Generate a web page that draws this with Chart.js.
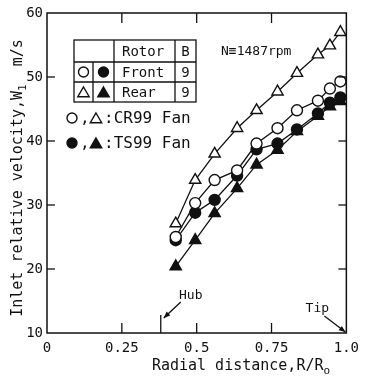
<!DOCTYPE html>
<html>
<head>
<meta charset="utf-8">
<script src="https://cdn.jsdelivr.net/npm/chart.js@4.4.1/dist/chart.umd.min.js"></script>
<style>
html,body{margin:0;padding:0;background:#fff;}
canvas{display:block;}
</style>
</head>
<body>
<canvas id="c" width="366" height="378"></canvas>
<script>
// ---- data ----
const radialPositions = [0.43, 0.495, 0.56, 0.635, 0.70, 0.77, 0.835, 0.905, 0.945, 0.98];
const cr99Front = [25.0, 30.3, 33.9, 35.4, 39.6, 42.0, 44.8, 46.3, 48.2, 49.3];
const cr99Rear  = [27.1, 33.9, 38.0, 42.0, 44.8, 47.7, 50.6, 53.5, 54.9, 57.0];
const ts99Front = [24.5, 28.8, 30.8, 34.6, 38.7, 39.6, 41.8, 44.3, 46.0, 46.8];
const ts99Rear  = [20.4, 24.5, 28.7, 32.6, 36.3, 38.6, 41.5, 43.9, 45.4, 46.2];
const xTickValues = [0, 0.25, 0.5, 0.75, 1.0];
const xTickLabels = ['0', '0.25', '0.5', '0.75', '1.0'];
const yTickValues = [10, 20, 30, 40, 50, 60];
const hubPosition = 0.38;

const FONT = '"DejaVu Sans Mono", monospace';
const INK = '#111';

function pts(vals){ return radialPositions.map((r,i)=>({x:r, y:vals[i]})); }
function ds(label, vals, style, filled){
  return {
    label, data: pts(vals), showLine: true,
    borderColor: INK, borderWidth: 1.3,
    pointStyle: style, pointRadius: style==='triangle'?6.5:5.5,
    pointBackgroundColor: filled ? INK : '#fff',
    pointBorderColor: INK, pointBorderWidth: 1.4,
    tension: 0
  };
}

function marker(ctx, style, x, y, r, filled){
  ctx.save();
  ctx.lineWidth = 1.4; ctx.strokeStyle = INK; ctx.fillStyle = filled ? INK : '#fff';
  ctx.beginPath();
  if(style==='circle'){ ctx.arc(x,y,r,0,Math.PI*2); }
  else { ctx.moveTo(x, y-r); ctx.lineTo(x+r*0.95, y+r*0.62); ctx.lineTo(x-r*0.95, y+r*0.62); ctx.closePath(); }
  ctx.fill(); ctx.stroke();
  ctx.restore();
}

function arrow(ctx, x1,y1,x2,y2){
  ctx.save();
  ctx.strokeStyle = INK; ctx.fillStyle = INK; ctx.lineWidth = 1.3;
  ctx.beginPath(); ctx.moveTo(x1,y1); ctx.lineTo(x2,y2); ctx.stroke();
  const a = Math.atan2(y2-y1, x2-x1), L = 7, w = 0.4;
  ctx.beginPath();
  ctx.moveTo(x2,y2);
  ctx.lineTo(x2 - L*Math.cos(a-w), y2 - L*Math.sin(a-w));
  ctx.lineTo(x2 - L*Math.cos(a+w), y2 - L*Math.sin(a+w));
  ctx.closePath(); ctx.fill();
  ctx.restore();
}

const decor = {
  id: 'decor',
  afterDraw(chart){
    const ctx = chart.ctx, ca = chart.chartArea;
    const xs = chart.scales.x, ys = chart.scales.y;
    ctx.save();
    ctx.strokeStyle = INK; ctx.lineWidth = 1.5;
    ctx.strokeRect(ca.left, ca.top, ca.right-ca.left, ca.bottom-ca.top);
    // inner ticks
    ctx.lineWidth = 1.3;
    xTickValues.slice(1, -1).forEach(v=>{
      const px = xs.getPixelForValue(v);
      ctx.beginPath(); ctx.moveTo(px, ca.bottom); ctx.lineTo(px, ca.bottom-10); ctx.stroke();
      ctx.beginPath(); ctx.moveTo(px, ca.top); ctx.lineTo(px, ca.top+10); ctx.stroke();
    });
    yTickValues.slice(1, -1).forEach(v=>{
      const py = ys.getPixelForValue(v);
      ctx.beginPath(); ctx.moveTo(ca.left, py); ctx.lineTo(ca.left+8, py); ctx.stroke();
      ctx.beginPath(); ctx.moveTo(ca.right, py); ctx.lineTo(ca.right-8, py); ctx.stroke();
    });
    // hub tick
    const hx = xs.getPixelForValue(hubPosition);
    ctx.beginPath(); ctx.moveTo(hx, ca.bottom); ctx.lineTo(hx, ca.bottom-18); ctx.stroke();

    ctx.fillStyle = INK;
    ctx.textBaseline = 'middle';
    ctx.textAlign = 'center';
    ctx.font = '13px ' + FONT;
    ctx.fillText('Hub', hx+30, ca.bottom-37);
    arrow(ctx, hx+20, ca.bottom-31, hx+3, ca.bottom-15);
    ctx.fillText('Tip', ca.right-29, ca.bottom-24);
    arrow(ctx, ca.right-22, ca.bottom-17, ca.right-1, ca.bottom-1);

    // N text
    ctx.textAlign = 'left';
    ctx.font = '13px ' + FONT;
    ctx.fillText('N\u22611487rpm', 221, 52);

    // legend table
    const L=74, R=196, T=40, B=102, c1=93, c2=114, c3=175, r1=62, r2=82;
    ctx.lineWidth = 1.3;
    ctx.strokeRect(L, T, R-L, B-T);
    ctx.beginPath();
    ctx.moveTo(L, r1); ctx.lineTo(R, r1);
    ctx.moveTo(L, r2); ctx.lineTo(R, r2);
    ctx.moveTo(c1, r1); ctx.lineTo(c1, B);
    ctx.moveTo(c2, T); ctx.lineTo(c2, B);
    ctx.moveTo(c3, T); ctx.lineTo(c3, B);
    ctx.stroke();
    ctx.font = '14px ' + FONT;
    ctx.textAlign = 'left';
    ctx.fillText('Rotor', 122, (T+r1)/2+1);
    ctx.fillText('Front', 122, (r1+r2)/2+1);
    ctx.fillText('Rear', 122, (r2+B)/2+1);
    ctx.textAlign = 'center';
    ctx.fillText('B', (c3+R)/2, (T+r1)/2+1);
    ctx.fillText('9', (c3+R)/2, (r1+r2)/2+1);
    ctx.fillText('9', (c3+R)/2, (r2+B)/2+1);
    marker(ctx, 'circle', (L+c1)/2, (r1+r2)/2, 5, false);
    marker(ctx, 'circle', (c1+c2)/2, (r1+r2)/2, 5, true);
    marker(ctx, 'triangle', (L+c1)/2, (r2+B)/2+1, 6, false);
    marker(ctx, 'triangle', (c1+c2)/2, (r2+B)/2+1, 6, true);

    // series key lines
    marker(ctx, 'circle', 72, 118, 5, false);
    marker(ctx, 'triangle', 96, 119, 6, false);
    marker(ctx, 'circle', 72, 143, 5, true);
    marker(ctx, 'triangle', 96, 144, 6, true);
    ctx.textAlign = 'left';
    ctx.font = '16px ' + FONT;
    ctx.fillText(',', 80, 119);
    ctx.fillText(':CR99 Fan', 104, 119);
    ctx.fillText(',', 80, 144);
    ctx.fillText(':TS99 Fan', 104, 144);

    // axis titles
    ctx.textBaseline = 'alphabetic';
    const fMain = '15px ' + FONT, fSub = '11px ' + FONT;
    // x title
    {
      const a = 'Radial distance,R/R', s = 'o';
      ctx.font = fMain; const wa = ctx.measureText(a).width;
      ctx.font = fSub; const ws = ctx.measureText(s).width;
      let x0 = 241 - (wa+ws)/2;
      ctx.textAlign = 'left';
      ctx.font = fMain; ctx.fillText(a, x0, 370);
      ctx.font = fSub; ctx.fillText(s, x0+wa, 374);
    }
    // y title
    {
      const a = 'Inlet relative velocity,W', s = '1', b = '  m/s';
      ctx.font = fMain; const wa = ctx.measureText(a).width, wb = ctx.measureText(b).width;
      ctx.font = fSub; const ws = ctx.measureText(s).width;
      const total = wa+ws+wb;
      ctx.save();
      ctx.translate(22, 178);
      ctx.rotate(-Math.PI/2);
      let x0 = -total/2;
      ctx.textAlign = 'left';
      ctx.font = fMain; ctx.fillText(a, x0, 0);
      ctx.font = fSub; ctx.fillText(s, x0+wa, 4);
      ctx.font = fMain; ctx.fillText(b, x0+wa+ws, 0);
      ctx.restore();
    }
    ctx.restore();
  }
};

new Chart(document.getElementById('c'), {
  type: 'scatter',
  data: {
    datasets: [
      ds('CR99 Rear', cr99Rear, 'triangle', false),
      ds('CR99 Front', cr99Front, 'circle', false),
      ds('TS99 Front', ts99Front, 'circle', true),
      ds('TS99 Rear', ts99Rear, 'triangle', true)
    ]
  },
  options: {
    responsive: false, animation: false, devicePixelRatio: 1,
    layout: { padding: { left: 0, right: 14, top: 13, bottom: 0 } },
    plugins: { legend: { display: false }, tooltip: { enabled: false } },
    scales: {
      x: {
        type: 'linear', min: 0, max: 1,
        afterBuildTicks(s){ s.ticks = xTickValues.map(v=>({value:v})); },
        afterFit(s){ s.height = 45; },
        grid: { display: false, drawTicks: false }, border: { display: false },
        ticks: {
          color: INK, font: { family: FONT, size: 14 }, padding: 7, maxRotation: 0,
          callback(v){ const i = xTickValues.indexOf(v); return i>=0 ? xTickLabels[i] : ''; }
        }
      },
      y: {
        type: 'linear', min: 10, max: 60,
        afterBuildTicks(s){ s.ticks = yTickValues.map(v=>({value:v})); },
        afterFit(s){ s.width = 47; },
        grid: { display: false, drawTicks: false }, border: { display: false },
        ticks: { color: INK, font: { family: FONT, size: 14 }, padding: 4 }
      }
    }
  },
  plugins: [decor]
});
</script>
</body>
</html>
